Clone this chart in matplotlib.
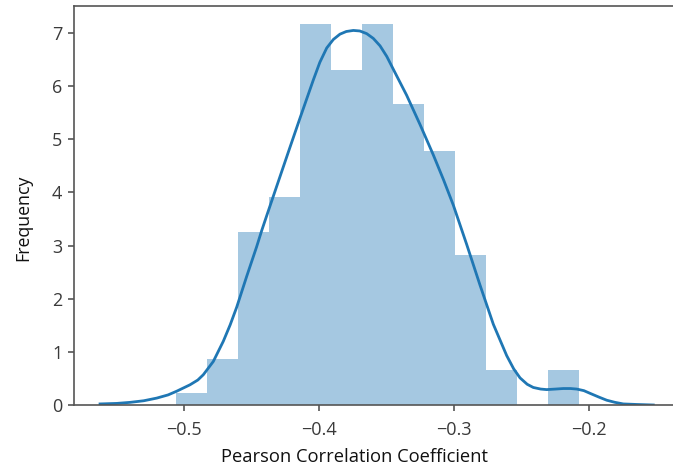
import matplotlib
matplotlib.use("Agg")
import matplotlib.pyplot as plt

# histogram (density)
bin_left = -0.5061
bin_width = 0.02298
heights = [0.22, 0.87, 3.26, 3.92, 7.18, 6.31, 7.18, 5.66, 4.79, 2.83, 0.65, 0.0, 0.65]

# kde curve, points
kde_x = [-0.5624, -0.5500, -0.5400, -0.5300, -0.5204, -0.5120, -0.5056, -0.4958, -0.4900,
         -0.4859, -0.4785, -0.4711, -0.4660, -0.4612, -0.4538, -0.4464, -0.4427, -0.4390,
         -0.4291, -0.4220, -0.4143, -0.4044, -0.3996, -0.3945, -0.3896, -0.3847, -0.3800,
         -0.3748, -0.3700, -0.3649, -0.3600, -0.3550, -0.3500, -0.3452, -0.3353, -0.3254,
         -0.3156, -0.3080, -0.3007, -0.2908, -0.2810, -0.2711, -0.2612, -0.2560, -0.2513,
         -0.2460, -0.2415, -0.2360, -0.2316, -0.2250, -0.2193, -0.2140, -0.2093, -0.2040,
         -0.1995, -0.1930, -0.1871, -0.1810, -0.1748, -0.1650, -0.1526]
kde_y = [0.02, 0.03, 0.05, 0.08, 0.13, 0.19, 0.26, 0.38, 0.47,
         0.57, 0.82, 1.20, 1.51, 1.84, 2.42, 2.98, 3.28, 3.56,
         4.30, 4.83, 5.40, 6.12, 6.45, 6.72, 6.88, 6.98, 7.03,
         7.05, 7.04, 6.99, 6.90, 6.76, 6.56, 6.32, 5.83, 5.28,
         4.71, 4.24, 3.76, 3.02, 2.26, 1.52, 0.93, 0.68, 0.51,
         0.39, 0.33, 0.30, 0.29, 0.30, 0.31, 0.31, 0.30, 0.27,
         0.22, 0.15, 0.09, 0.05, 0.02, 0.01, 0.00]

plt.rcParams['font.family'] = ['Open Sans', 'DejaVu Sans']

fig = plt.figure(figsize=(6.73, 4.66), dpi=100)
ax = fig.add_axes([74 / 673, 61 / 466, 609 / 673, 399 / 466])

lefts = [bin_left + i * bin_width for i in range(len(heights))]
ax.bar(lefts, heights, width=bin_width, align='edge', color='#1f77b4', alpha=0.4, linewidth=0)
ax.plot(kde_x, kde_y, color='#1f77b4', linewidth=2)

ax.set_xlim(-0.5817, -0.1306)
ax.set_ylim(0, 7.51)
ax.set_xticks([-0.5, -0.4, -0.3, -0.2])
ax.set_yticks(range(8))

for s in ax.spines.values():
    s.set_color('#555555')
    s.set_linewidth(1.2)
ax.tick_params(length=4.5, width=1.2, color='#555555', labelcolor='#3a3a3a', labelsize=13)
ax.tick_params(axis='x', pad=7)
ax.tick_params(axis='y', pad=4)

ax.set_xlabel('Pearson Correlation Coefficient', fontsize=13.2, color='#111111')
ax.set_ylabel('Frequency', fontsize=12.8, color='#111111')
ax.xaxis.set_label_coords(0.46, -0.107)
ax.yaxis.set_label_coords(-0.068, 0.469)

fig.savefig('out.png', dpi=100)
